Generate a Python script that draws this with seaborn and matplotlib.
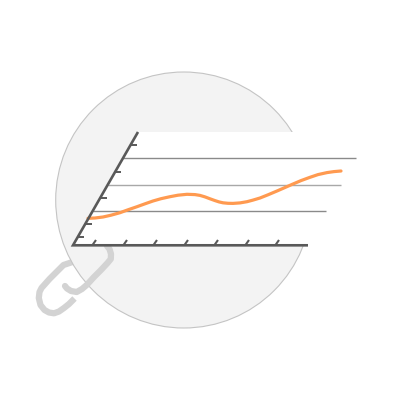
import numpy as np
import pandas as pd
import matplotlib
matplotlib.use('Agg')
import matplotlib.pyplot as plt
import seaborn as sns
from matplotlib.patches import Circle, Polygon

# orange curve
curve_x = [88, 95, 103, 111, 120, 128, 137, 145, 153, 161, 170, 178, 187, 195, 200, 205, 210, 215, 219,
           223, 228, 233, 240, 247, 253, 260, 268, 277, 285, 293, 301, 310, 318, 327, 334, 341]
curve_y = [218.3, 218, 217, 215.2, 212.7, 209.8, 206.7, 203.8, 201, 198.7, 196.7, 195.2, 194.3, 194.6, 195.4, 196.9, 198.8, 200.6, 201.9,
           202.8, 203.3, 203.4, 202.9, 201.7, 200.1, 198, 194.8, 191, 187.5, 184, 180.6, 177.3, 174.6, 172.6, 171.6, 171]

# horizontal guide lines: height, start, end, colour
grid_y = [158, 185, 211]
grid_start = [123, 108, 93]
grid_end = [355.5, 340.5, 325.5]
grid_color = ['#8a8a8a', '#a8a8a8', '#8a8a8a']

# tick positions along the two axes
xtick_pos = [94, 125, 155, 186, 216, 247, 277]
ytick_pos = [145, 172, 198, 224, 237]

# paper clip
clip_front_x = [107, 109.5, 111, 110.8, 107.5, 101, 94, 86.7, 82, 76.7, 71, 67, 65]
clip_front_y = [246, 249, 254, 259, 263, 270, 277, 285, 289, 292, 291, 288.5, 286]
clip_back_x = [79, 71, 63.5, 56.5, 49.5, 41.5, 39.5, 38.8, 40.5, 44.5, 49, 54, 59, 64, 69, 74.5]
clip_back_y = [260, 262.5, 265, 272, 279, 288, 292, 298, 305, 310, 312.5, 313.3, 311.5, 308, 304, 298.5]

sns.set_style('white')
fig, ax = plt.subplots(figsize=(4.09, 4.09), dpi=100)
ax.set_position([0, 0, 1, 1])
ax.set_xlim(0, 409)
ax.set_ylim(409, 0)
ax.axis('off')

sns.lineplot(x=clip_back_x, y=clip_back_y, sort=False, estimator=None, ax=ax, color='#d3d3d3',
             linewidth=4.5, zorder=1, solid_capstyle='butt')
ax.add_patch(Circle((183.7, 200), 128, facecolor='#f3f3f3', edgecolor='#c4c4c4', linewidth=0.8, zorder=2))
sns.lineplot(x=clip_front_x, y=clip_front_y, sort=False, estimator=None, ax=ax, color='#d3d3d3',
             linewidth=4.5, zorder=3, solid_capstyle='round')

# white panel hides the circle behind the chart
ax.add_patch(Polygon([(73, 245), (138, 132), (409, 132), (409, 245)], facecolor='white', edgecolor='none', zorder=4))

for y, x0, x1, c in zip(grid_y, grid_start, grid_end, grid_color):
    ax.plot([x0, x1], [y, y], color=c, linewidth=1.0, zorder=5, solid_capstyle='butt')

sns.lineplot(x=curve_x, y=curve_y, sort=False, estimator=None, ax=ax, color='#ff9a50',
             linewidth=2.3, zorder=6, solid_capstyle='round')

# axes
ax.plot([308, 73, 138], [245.3, 245.3, 132], color='#595959', linewidth=1.9, zorder=7,
        solid_joinstyle='miter', solid_capstyle='butt')
for x in xtick_pos:
    ax.plot([x - 1.5, x + 2], [245, 240], color='#595959', linewidth=1.5, zorder=7, solid_capstyle='butt')
for y in ytick_pos:
    x_on_axis = 73 + (245 - y) * 65 / 113
    ax.plot([x_on_axis, x_on_axis + 6.5], [y, y], color='#595959', linewidth=1.4, zorder=7, solid_capstyle='butt')

fig.savefig('out.png', dpi=100)
